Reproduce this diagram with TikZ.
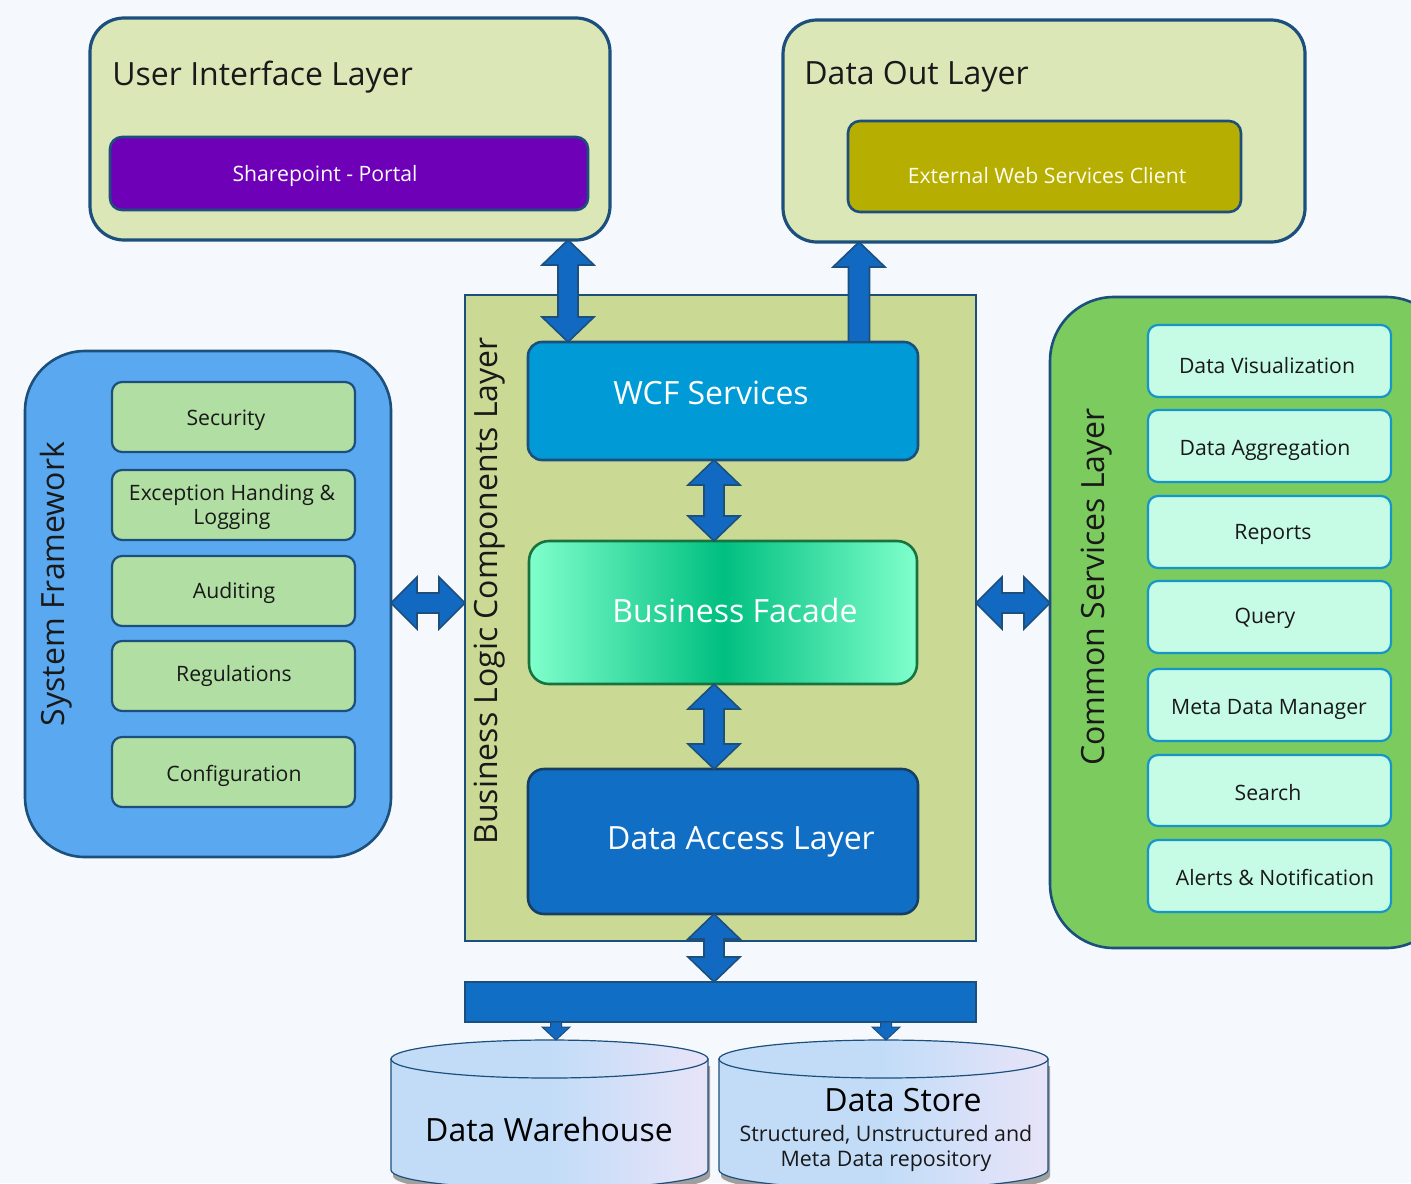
\documentclass[tikz,border=0pt]{standalone}
\usepackage{fontspec}
\setmainfont{Open Sans}
\usetikzlibrary{fit}
\definecolor{bg}{HTML}{F5F9FD}
\definecolor{navy}{HTML}{1D4F7D}
\definecolor{layerfill}{HTML}{DCE7B8}
\definecolor{purp}{HTML}{6E00B8}
\definecolor{olive}{HTML}{B6AE00}
\definecolor{blcfill}{HTML}{CADA95}
\definecolor{wcf}{HTML}{009AD6}
\definecolor{dal}{HTML}{106EC4}
\definecolor{arrowblue}{HTML}{1269C2}
\definecolor{sffill}{HTML}{5AA9F0}
\definecolor{sfinner}{HTML}{B1DEA2}
\definecolor{csfill}{HTML}{7BCB5E}
\definecolor{csinner}{HTML}{C6FBE6}
\definecolor{csborder}{HTML}{1596C8}
\definecolor{facedge}{HTML}{80FFCC}
\definecolor{facmid}{HTML}{00BF80}
\definecolor{facborder}{HTML}{18733F}
\definecolor{cylA}{HTML}{C2DCF8}
\definecolor{cylB}{HTML}{E8E4F8}
\newcommand{\vdarr}[2]{%
  \draw[bigarrow] (#1) -- ([xshift=13pt,yshift=-12.5pt]#1) -- ([xshift=5pt,yshift=-12.5pt]#1)
   -- ([xshift=5pt,yshift=12.5pt]#2) -- ([xshift=13pt,yshift=12.5pt]#2) -- (#2)
   -- ([xshift=-13pt,yshift=12.5pt]#2) -- ([xshift=-5pt,yshift=12.5pt]#2)
   -- ([xshift=-5pt,yshift=-12.5pt]#1) -- ([xshift=-13pt,yshift=-12.5pt]#1) -- cycle;}
\newcommand{\hdarr}[2]{%
  \draw[bigarrow] (#1) -- ([xshift=13pt,yshift=13pt]#1) -- ([xshift=13pt,yshift=5pt]#1)
   -- ([xshift=-13pt,yshift=5pt]#2) -- ([xshift=-13pt,yshift=13pt]#2) -- (#2)
   -- ([xshift=-13pt,yshift=-13pt]#2) -- ([xshift=-13pt,yshift=-5pt]#2)
   -- ([xshift=13pt,yshift=-5pt]#1) -- ([xshift=13pt,yshift=-13pt]#1) -- cycle;}
\newcommand{\smdarr}[2]{%
  \draw[bigarrow,line width=0.5pt] (#1) ++(2.75pt,0) -- ([xshift=2.75pt,yshift=6.5pt]#2) -- ([xshift=7pt,yshift=6.5pt]#2) -- (#2)
   -- ([xshift=-7pt,yshift=6.5pt]#2) -- ([xshift=-2.75pt,yshift=6.5pt]#2) -- ([xshift=-2.75pt]#1) -- cycle;}
\begin{document}
\begin{tikzpicture}[x=0.5pt,y=-0.5pt,
  box/.style={inner sep=0pt, outer sep=0pt},
  layer/.style={box, draw=navy, line width=1.6pt, fill=layerfill, rounded corners=17pt},
  inbox/.style={box, draw=navy, line width=1.3pt, rounded corners=6pt},
  sfbox/.style={box, draw=navy, line width=1.1pt, fill=sfinner, rounded corners=5pt},
  csbox/.style={box, draw=csborder, line width=1.1pt, fill=csinner, rounded corners=5pt},
  bigarrow/.style={draw=navy, fill=arrowblue, line width=0.8pt, line join=miter},
  ttl/.style={inner sep=0pt, font=\fontsize{16}{19}\selectfont, text=black!90},
  big/.style={inner sep=0pt, font=\fontsize{16}{19}\selectfont},
  sm/.style={inner sep=0pt, yshift=-1.5pt, font=\fontsize{10.6}{12.5}\selectfont, text=black!90, align=center},
  cyl/.style={draw=navy, line width=0.6pt, left color=cylA, right color=cylB, middle color=cylA}
]
\clip (0,0) rectangle (1411,1183);
\fill[bg] (0,0) rectangle (1411,1183);

% ---- top layers
\node[layer, fit={(90,18) (610,240)}] (ui) {};
\node[ttl, anchor=west] (uit) at (112,77) {User Interface Layer};
\node[inbox, fill=purp, fit={(110,137) (588,210)}] (sp) {};
\node[sm, text=white] (spt) at (325,173) {Sharepoint - Portal};

\node[layer, fit={(783,20) (1305,242)}] (dout) {};
\node[ttl, anchor=west] (doutt) at (804,77) {Data Out Layer};
\node[inbox, fill=olive, fit={(848,121) (1241,212)}] (ext) {};
\node[sm, text=white!95!yellow] (extt) at (1047,173) {External Web Services Client};

% ---- business logic
\node[box, draw=navy, line width=1pt, fill=blcfill, fit={(465,295) (976,941)}] (blc) {};
\node[ttl, rotate=90] (blct) at (490,591) {Business Logic Components Layer};
\node[inbox, fill=wcf, rounded corners=7pt, fit={(528,342) (918,460)}] (wcf) {};
\node[big, text=white] (wcft) at (711,393) {WCF Services};
\node[box, draw=facborder, line width=1.3pt, rounded corners=10pt, left color=facedge, right color=facedge, middle color=facmid, fit={(529,541) (917,684)}] (fac) {};
\node[big, text=white] (fact) at (735,610) {Business Facade};
\node[inbox, fill=dal, rounded corners=8pt, draw=navy!80!black, fit={(528,769) (918,914)}] (dal) {};
\node[big, text=white] (dalt) at (741,842) {Data Access Layer};

% ---- system framework
\node[box, draw=navy, line width=1.3pt, fill=sffill, rounded corners=30pt, fit={(25,351) (391,857)}] (sf) {};
\node[ttl, rotate=90] (sft) at (56,584) {System Framework};
\node[sfbox, fit={(112,382) (355,452)}] (sec) {};
\node[sm] at (226,417) {Security};
\node[sfbox, fit={(112,470) (355,540)}] (exc) {};
\node[sm, font=\fontsize{10.6}{12}\selectfont] at (232,504) {Exception Handing \&\\Logging};
\node[sfbox, fit={(112,556) (355,626)}] (aud) {};
\node[sm] at (234,590) {Auditing};
\node[sfbox, fit={(112,641) (355,711)}] (reg) {};
\node[sm] at (234,673) {Regulations};
\node[sfbox, fit={(112,737) (355,807)}] (conf) {};
\node[sm] at (234,773) {Configuration};

% ---- common services
\node[box, draw=navy, line width=1.3pt, fill=csfill, rounded corners=32pt, fit={(1050,297) (1450,948)}] (cs) {};
\node[ttl, rotate=90] (cst) at (1097,587) {Common Services Layer};
\node[csbox, fit={(1148,325) (1391,397)}] (c1) {};
\node[sm] at (1267,363) {Data Visualization};
\node[csbox, fit={(1148,410) (1391,482)}] (c2) {};
\node[sm] at (1265,447) {Data Aggregation};
\node[csbox, fit={(1148,496) (1391,568)}] (c3) {};
\node[sm] at (1273,531) {Reports};
\node[csbox, fit={(1148,581) (1391,653)}] (c4) {};
\node[sm] at (1265,615) {Query};
\node[csbox, fit={(1148,669) (1391,741)}] (c5) {};
\node[sm] at (1269,706) {Meta Data Manager};
\node[csbox, fit={(1148,755) (1391,826)}] (c6) {};
\node[sm] at (1268,790) {Search};
\node[csbox, fit={(1148,840) (1391,912)}] (c7) {};
\node[sm] at (1275,874) {Alerts \& Notification};

% ---- bar
\node[box, draw=navy, line width=0.6pt, fill=dal, fit={(465,982) (976,1022)}] (bar) {};

% ---- cylinders
\fill[gray!75] (393,1066) -- (393,1176) .. controls (393,1186.5) and (464,1195) .. (551.5,1195) .. controls (639,1195) and (710,1186.5) .. (710,1176) -- (710,1066) -- cycle;
\path[cyl] (391,1059) -- (391,1170) .. controls (391,1180.5) and (462,1189) .. (549.5,1189) .. controls (637,1189) and (708,1180.5) .. (708,1170) -- (708,1059) -- cycle;
\path[cyl] (549.5,1059) ellipse [x radius=158.5, y radius=19];
\node[box, fit={(391,1040) (708,1183)}] (dw) {};
\node[big] (dwt) at (549,1129) {Data Warehouse};

\fill[gray!75] (721,1066) -- (721,1176) .. controls (721,1186.5) and (795,1195) .. (885.5,1195) .. controls (976,1195) and (1050,1186.5) .. (1050,1176) -- (1050,1066) -- cycle;
\path[cyl] (719,1059) -- (719,1170) .. controls (719,1180.5) and (793,1189) .. (883.5,1189) .. controls (974,1189) and (1048,1180.5) .. (1048,1170) -- (1048,1059) -- cycle;
\path[cyl] (883.5,1059) ellipse [x radius=164.5, y radius=19];
\node[box, fit={(719,1040) (1048,1183)}] (ds) {};
\node[big] (dst) at (903,1100) {Data Store};
\node[sm, font=\fontsize{10.7}{12.5}\selectfont] (dss) at (886,1145) {Structured, Unstructured and\\Meta Data repository};

% ---- connectors
\coordinate (ax1) at (568,0);
\coordinate (ax2) at (859,0);
\coordinate (ax3) at (714,0);
\coordinate (ay) at (0,603);
\coordinate (sx1) at (556,0);
\coordinate (sx2) at (886,0);

\coordinate (t1) at (ui.south -| ax1);
\coordinate (b1) at (wcf.north -| ax1);
\vdarr{t1}{b1}

\coordinate (t2) at (dout.south -| ax2);
\coordinate (b2) at (wcf.north -| ax2);
\draw[bigarrow] (t2) -- ([xshift=13pt,yshift=-12.5pt]t2) -- ([xshift=5.25pt,yshift=-12.5pt]t2) -- ([xshift=5.25pt]b2) -- ([xshift=-5.25pt]b2) -- ([xshift=-5.25pt,yshift=-12.5pt]t2) -- ([xshift=-13pt,yshift=-12.5pt]t2) -- cycle;

\coordinate (t3) at (wcf.south -| ax3);
\coordinate (b3) at (fac.north -| ax3);
\vdarr{t3}{b3}
\coordinate (t4) at (fac.south -| ax3);
\coordinate (b4) at (dal.north -| ax3);
\vdarr{t4}{b4}
\coordinate (t5) at (dal.south -| ax3);
\coordinate (b5) at (bar.north -| ax3);
\vdarr{t5}{b5}

\coordinate (l1) at (sf.east |- ay);
\coordinate (r1) at (blc.west |- ay);
\hdarr{l1}{r1}
\coordinate (l2) at (blc.east |- ay);
\coordinate (r2) at (cs.west |- ay);
\hdarr{l2}{r2}

\coordinate (s1) at (bar.south -| sx1);
\coordinate (e1) at (dw.north -| sx1);
\smdarr{s1}{e1}
\coordinate (s2) at (bar.south -| sx2);
\coordinate (e2) at (ds.north -| sx2);
\smdarr{s2}{e2}
\end{tikzpicture}
\end{document}
